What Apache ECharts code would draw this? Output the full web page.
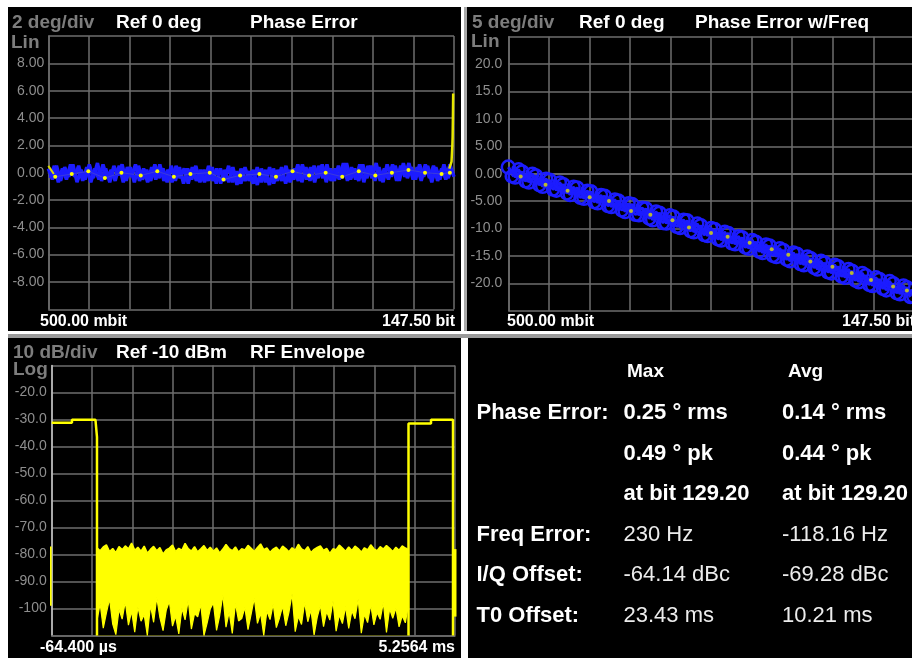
<!DOCTYPE html>
<html>
<head>
<meta charset="utf-8">
<script src="https://cdn.jsdelivr.net/npm/echarts@6/dist/echarts.min.js"></script>
<style>
html,body{margin:0;padding:0;background:#fff;overflow:hidden;width:912px;height:658px;}
.panel{position:absolute;background:#000;}
#chart{position:absolute;left:0;top:0;width:930px;height:658px;}
</style>
</head>
<body>
<div class="panel" style="left:8px;top:7px;width:453px;height:324px"></div>
<div class="panel" style="left:464px;top:7px;width:3px;height:324px;background:#a8a8a8"></div>
<div class="panel" style="left:467px;top:7px;width:470px;height:324px"></div>
<div class="panel" style="left:8px;top:334px;width:930px;height:4px;background:#9a9a9a"></div>
<div class="panel" style="left:8px;top:338px;width:453px;height:320px"></div>
<div class="panel" style="left:468px;top:338px;width:470px;height:320px"></div>
<div id="chart"></div>
<script>
// ---------- DATA ----------
// Panel 1: Phase Error (deg) vs bit 0.5 .. 147.5 (two interleaved traces)
const phaseBitRange = [0.5, 147.5];
const phaseBitRange2 = [1.2, 146.8];
const phaseErrDeg = [
 0.3,-0.5,0.5,-0.6,0.4,-0.3,0.6,-0.7,0.2,-0.5,
 0.6,-0.4,0.7,-0.6,0.3,-0.7,0.5,-0.2,0.6,-0.6,
 0.4,-0.7,0.5,-0.5,0.2,-0.6,0.6,-0.4,0.3,-0.7,
 0.5,-0.6,0.4,-0.8,0.3,-0.5,0.5,-0.7,0.2,-0.6,
 0.4,-0.8,0.3,-0.6,0.5,-0.7,0.1,-0.8,0.4,-0.6,
 0.2,-0.9,0.3,-0.7,0.4,-0.8,0.2,-0.6,0.5,-0.7,
 0.3,-0.6,0.6,-0.5,0.4,-0.7,0.5,-0.4,0.6,-0.6,
 0.3,-0.5,0.7,-0.6,0.4,-0.5,0.6,-0.7,0.5,-0.4,
 0.7,-0.6,0.3,-0.5,0.6,-0.6,0.5,-0.3,0.7,-0.5,
 0.4,-0.6,0.6,-0.4,0.5,-0.6,0.3,-0.5,0.6,-0.3
];
const phaseErrDeg2 = [
 -0.4,0.5,-0.7,0.3,-0.5,0.6,-0.3,0.5,-0.6,0.4,
 -0.7,0.3,-0.5,0.6,-0.4,0.2,-0.6,0.5,-0.7,0.4,
 -0.3,0.6,-0.6,0.3,-0.7,0.4,-0.5,0.6,-0.6,0.2,
 -0.7,0.5,-0.4,0.3,-0.8,0.4,-0.6,0.2,-0.7,0.5,
 -0.6,0.3,-0.8,0.2,-0.7,0.4,-0.9,0.3,-0.6,0.1,
 -0.8,0.4,-0.7,0.2,-0.9,0.3,-0.6,0.4,-0.8,0.2,
 -0.5,0.6,-0.7,0.4,-0.6,0.5,-0.4,0.6,-0.7,0.3,
 -0.6,0.5,-0.4,0.7,-0.5,0.3,-0.6,0.6,-0.4,0.5,
 -0.6,0.4,-0.7,0.6,-0.3,0.5,-0.6,0.7,-0.4,0.4,
 -0.5,0.6,-0.3,0.5,-0.7,0.4,-0.5,0.6,-0.4,0.3
];
const phaseDots = [[3,-0.3],[9,-0.1],[15,0.1],[21,-0.4],[27,0.0],[34,-0.2],[40,0.1],[46,-0.3],[52,-0.1],[59,0.0],
 [64,-0.5],[70,-0.2],[77,-0.1],[83,-0.3],[89,0.1],[95,-0.2],[101,0.0],[107,-0.3],[113,0.1],[119,-0.2],
 [125,0.0],[131,0.2],[137,0.0],[143,-0.1],[146,0.0]];
const phaseStartTail = [[0.5,0.5],[1.5,0.2],[2.5,-0.1]];
const phaseEndSpike = [[145.8,0.3],[146.6,0.8],[146.9,2.0],[147.0,2.6],[147.1,4.0],[147.2,5.8]];
const phaseYLabels = {'8':'8.00','6':'6.00','4':'4.00','2':'2.00','0':'0.00','-2':'-2.00','-4':'-4.00','-6':'-6.00','-8':'-8.00'};
const phaseXEnds = ['500.00 mbit','147.50 bit'];

// Panel 2: Phase Error w/Freq (deg) vs bit (two interleaved traces)
const freqBitRange2 = [1.75, 146.25];
const freqPhaseDeg = [
 1.2,-0.6,0.3,-1.5,-0.4,-2.3,-1.2,-3.0,-2.0,-3.8,
 -2.6,-4.5,-3.3,-5.3,-4.1,-6.0,-5.0,-6.9,-5.6,-7.5,
 -6.4,-8.4,-7.2,-9.0,-7.9,-9.8,-8.6,-10.6,-9.5,-11.3,
 -10.2,-12.1,-10.9,-12.8,-11.7,-13.6,-12.5,-14.4,-13.2,-15.1,
 -14.0,-15.9,-14.7,-16.6,-15.5,-17.4,-16.3,-18.1,-17.0,-18.9,
 -17.8,-19.7,-18.6,-20.4,-19.3,-21.2,-20.1,-21.9,-20.8,-22.4
];
const freqPhaseDeg2 = [
 -0.5,0.8,-1.4,0.0,-2.1,-0.9,-2.9,-1.6,-3.6,-2.4,
 -4.4,-3.1,-5.2,-3.9,-5.9,-4.7,-6.7,-5.4,-7.5,-6.2,
 -8.2,-6.9,-9.0,-7.6,-9.7,-8.4,-10.5,-9.1,-11.2,-9.9,
 -12.0,-10.6,-12.7,-11.4,-13.5,-12.1,-14.2,-12.9,-15.0,-13.6,
 -15.7,-14.4,-16.5,-15.1,-17.2,-15.9,-18.0,-16.6,-18.8,-17.4,
 -19.5,-18.1,-20.3,-18.9,-21.0,-19.6,-21.8,-20.4,-22.5
];
const freqDots = [[5,-0.5],[14,-2],[22,-3.1],[30,-4.3],[37,-5],[45,-6.8],[52,-7.5],[60,-8.5],[66,-9.8],[74,-10.8],
 [80,-11.5],[88,-12.6],[96,-13.8],[102,-14.8],[110,-16.0],[118,-17.0],[125,-18.1],[132,-19.4],[140,-20.6],[145,-21.3]];
const freqYLabels = {'20':'20.0','15':'15.0','10':'10.0','5':'5.00','0':'0.00','-5':'-5.00','-10':'-10.0','-15':'-15.0','-20':'-20.0'};
const freqXEnds = ['500.00 mbit','147.50 bit'];

// Panel 3: RF Envelope (dBm) vs time (ms)
const envTimeRange = [-0.0644, 5.2564];
const burstLeft = [[-0.0644,-31.2],[0.203,-31.2],[0.203,-30.1],[0.513,-30.1],[0.533,-36.5],[0.533,-110]];
const burstRight = [[4.643,-110],[4.643,-31.5],[4.940,-31.5],[4.940,-30.1],[5.230,-30.1],[5.230,-110]];
const edgeLeft = [[-0.085,-77],[-0.085,-99]];
const edgeRight = [[5.2564,-78],[5.2564,-103]];
const noiseSpan = [0.533, 4.643];
const noiseTop = [
 -77.5,-78.6,-77.2,-76.4,-78.9,-77.8,-79.3,-77.1,-78.2,-76.8,
 -77.9,-75.8,-78.4,-77.3,-78.8,-76.9,-79.5,-78.1,-77.0,-78.6,
 -77.4,-79.8,-78.3,-77.6,-76.5,-78.9,-77.7,-78.4,-75.9,-77.8,
 -78.7,-77.1,-79.0,-77.9,-76.7,-78.5,-77.3,-78.8,-77.6,-79.4,
 -78.0,-76.3,-77.8,-78.6,-77.2,-79.1,-77.9,-78.3,-76.6,-77.7,
 -78.9,-77.4,-76.1,-78.2,-77.6,-79.2,-78.0,-77.3,-78.7,-76.9,
 -77.8,-79.0,-77.5,-78.4,-76.2,-77.9,-78.6,-77.1,-79.3,-78.1,
 -77.4,-76.8,-78.5,-77.7,-79.6,-77.9,-78.2,-76.5,-77.6,-78.8,
 -77.2,-78.5,-76.9,-77.8,-79.1,-77.5,-78.3,-76.4,-77.9,-78.6,
 -77.1,-78.0,-76.7,-77.7,-78.9,-77.3,-78.4,-76.8,-77.6,-78.2
];
const noiseBottom = [
 -104.5,-98.2,-107.3,-101.6,-96.4,-105.8,-109.7,-100.3,-103.9,-97.5,
 -106.2,-101.0,-108.8,-99.4,-104.7,-102.3,-110.0,-98.8,-105.1,-95.9,
 -103.4,-108.2,-100.7,-97.3,-106.5,-102.8,-109.4,-99.9,-104.2,-96.8,
 -107.6,-101.9,-103.1,-98.5,-110.0,-105.4,-100.2,-97.9,-108.1,-102.6,
 -94.8,-106.9,-101.3,-109.2,-98.1,-104.6,-103.7,-99.6,-107.8,-102.0,
 -96.2,-105.5,-101.7,-110.0,-100.9,-104.1,-98.3,-107.1,-103.5,-99.1,
 -106.4,-101.4,-94.5,-108.6,-102.9,-105.9,-97.7,-104.9,-100.5,-109.8,
 -103.2,-98.9,-106.7,-101.1,-104.3,-97.2,-108.4,-102.4,-105.6,-99.3,
 -107.4,-100.8,-103.8,-96.5,-109.1,-102.1,-105.2,-98.6,-106.1,-101.5,
 -104.0,-97.8,-108.9,-100.1,-103.6,-99.8,-106.8,-102.7,-105.3,-98.4
];
const envYLabels = {'-20':'-20.0','-30':'-30.0','-40':'-40.0','-50':'-50.0','-60':'-60.0','-70':'-70.0','-80':'-80.0','-90':'-90.0','-100':'-100'};
const envXEnds = ['-64.400 \u00b5s','5.2564 ms'];

// Headers
const headers = [
  ['2 deg/div','Ref 0 deg','Phase Error','Lin'],
  ['5 deg/div','Ref 0 deg','Phase Error w/Freq','Lin'],
  ['10 dB/div','Ref -10 dBm','RF Envelope','Log']
];
// Results table
const tableHeads = ['Max','Avg'];
const rowLabels = ['Phase Error:','','','Freq Error:','I/Q Offset:','T0 Offset:'];
const maxCol = ['0.25 \u00b0 rms','0.49 \u00b0 pk','at bit 129.20','230 Hz','-64.14 dBc','23.43 ms'];
const avgCol = ['0.14 \u00b0 rms','0.44 \u00b0 pk','at bit 129.20','-118.16 Hz','-69.28 dBc','10.21 ms'];
const boldValueRows = 3;

// ---------- BUILD ----------
const FF = '"Liberation Sans", Arial, Helvetica, sans-serif';
const GRID_C = '#6e6e6e';
const LBL_C = '#8e8e8e';
const BLUE = '#1c1cff';
const YEL = '#ffff00';

const toPairs = (vals, range) => vals.map((v, i) => [range[0] + i * (range[1] - range[0]) / (vals.length - 1), v]);
const phaseData = toPairs(phaseErrDeg, phaseBitRange);
const phaseData2 = toPairs(phaseErrDeg2, phaseBitRange2);
const freqData = toPairs(freqPhaseDeg, phaseBitRange);
const freqData2 = toPairs(freqPhaseDeg2, freqBitRange2);
const noiseTopData = toPairs(noiseTop, noiseSpan);
const noiseLowData = toPairs(noiseBottom, noiseSpan);

const grids = [
  {left: 48.3, top: 36, width: 405.7, height: 273.3},
  {left: 508.3, top: 36.7, width: 405.5, height: 274},
  {left: 51.7, top: 365.5, width: 403.3, height: 270}
];

function divAxis(g) {
  return {type: 'value', gridIndex: g, min: 0, max: 10, interval: 1,
    axisLine: {show: true, lineStyle: {color: GRID_C, width: 1.5}},
    axisTick: {show: false}, axisLabel: {show: false},
    splitLine: {show: true, lineStyle: {color: GRID_C, width: 1.5}}};
}
function dataX(g, range) {
  return {type: 'value', gridIndex: g, min: range[0], max: range[1], show: false};
}
function yAxis(g, min, max, interval, labels, margin, lineColor) {
  return {type: 'value', gridIndex: g, min: min, max: max, interval: interval,
    axisLine: {show: true, lineStyle: {color: lineColor || GRID_C, width: 1.5}},
    axisTick: {show: false},
    axisLabel: {show: true, margin: margin, color: LBL_C, fontFamily: FF, fontSize: 14,
      formatter: v => labels[String(v)] || ''},
    splitLine: {show: true, lineStyle: {color: GRID_C, width: 1.5}}};
}

const graphics = [];
function txt(x, y, text, color, size, bold, align) {
  graphics.push({type: 'text', x: x, y: y, z: 100, silent: true,
    style: {text: text, fill: color, font: (bold ? 'bold ' : '') + size + 'px ' + FF,
      align: align || 'left', verticalAlign: 'middle'}});
}
const hdrPos = [
  {x: [12, 116, 250], y: 22.5, lx: 11, ly: 43},
  {x: [472, 579, 695], y: 22.5, lx: 471, ly: 42},
  {x: [13, 116, 250], y: 352.5, lx: 13, ly: 370}
];
headers.forEach((h, i) => {
  const p = hdrPos[i];
  txt(p.x[0], p.y, h[0], '#7d7d7d', 19, true);
  txt(p.x[1], p.y, h[1], '#ffffff', 19, true);
  txt(p.x[2], p.y, h[2], '#ffffff', 19, true);
  txt(p.lx, p.ly, h[3], '#7d7d7d', 19, true);
});
txt(40, 321.5, phaseXEnds[0], '#ffffff', 16, true);
txt(455, 321.5, phaseXEnds[1], '#ffffff', 16, true, 'right');
txt(507, 321.5, freqXEnds[0], '#ffffff', 16, true);
txt(915, 321.5, freqXEnds[1], '#ffffff', 16, true, 'right');
txt(40, 648, envXEnds[0], '#ffffff', 16, true);
txt(455, 648, envXEnds[1], '#ffffff', 16, true, 'right');
txt(627, 372, tableHeads[0], '#ffffff', 19, true);
txt(788, 372, tableHeads[1], '#ffffff', 19, true);
const rowY = [413, 454, 494, 534.5, 575, 615.5];
rowLabels.forEach((l, i) => {
  if (l) txt(476.5, rowY[i], l, '#ffffff', 22, true);
  const b = i < boldValueRows;
  txt(623.5, rowY[i], maxCol[i], b ? '#ffffff' : '#ececec', 22, b);
  txt(782, rowY[i], avgCol[i], b ? '#ffffff' : '#ececec', 22, b);
});

const option = {
  backgroundColor: 'transparent',
  animation: false,
  grid: grids.map(g => Object.assign({show: false, containLabel: false}, g)),
  xAxis: [divAxis(0), dataX(0, phaseBitRange), divAxis(1), dataX(1, phaseBitRange), divAxis(2), dataX(2, envTimeRange)],
  yAxis: [
    yAxis(0, -10, 10, 2, phaseYLabels, 4),
    yAxis(1, -25, 25, 5, freqYLabels, 6),
    yAxis(2, -110, -10, 10, envYLabels, 5, '#c8c8c8')
  ],
  graphic: graphics,
  series: [
    // Panel 1
    {type: 'line', xAxisIndex: 1, yAxisIndex: 0, data: phaseData, symbol: 'none',
      lineStyle: {color: BLUE, width: 3.5}, z: 3},
    {type: 'line', xAxisIndex: 1, yAxisIndex: 0, data: phaseData2, symbol: 'none',
      lineStyle: {color: BLUE, width: 3.5}, z: 3},
    {type: 'line', xAxisIndex: 1, yAxisIndex: 0, data: phaseDots, symbol: 'circle', symbolSize: 4,
      itemStyle: {color: YEL}, lineStyle: {color: 'rgba(170,170,90,0.22)', width: 1}, z: 4},
    {type: 'line', xAxisIndex: 1, yAxisIndex: 0, data: phaseStartTail, symbol: 'none',
      lineStyle: {color: '#d8d800', width: 2}, z: 4},
    {type: 'line', xAxisIndex: 1, yAxisIndex: 0, data: phaseEndSpike, symbol: 'none',
      lineStyle: {color: '#e6e600', width: 2.5}, z: 4},
    // Panel 2
    {type: 'line', xAxisIndex: 3, yAxisIndex: 1, data: freqData, symbol: 'circle', symbolSize: 13,
      itemStyle: {color: 'rgba(0,0,0,0)', borderColor: BLUE, borderWidth: 2.5},
      lineStyle: {color: BLUE, width: 3}, z: 3},
    {type: 'line', xAxisIndex: 3, yAxisIndex: 1, data: freqData2, symbol: 'circle', symbolSize: 12,
      itemStyle: {color: 'rgba(0,0,0,0)', borderColor: BLUE, borderWidth: 2.5},
      lineStyle: {color: BLUE, width: 2.5}, z: 3},
    {type: 'scatter', xAxisIndex: 3, yAxisIndex: 1, data: freqDots, symbol: 'circle', symbolSize: 4,
      itemStyle: {color: '#e0e000'}, z: 4},
    // Panel 3
    {type: 'line', xAxisIndex: 5, yAxisIndex: 2, data: noiseTopData, symbol: 'none',
      lineStyle: {color: YEL, width: 1.5}, areaStyle: {color: YEL, opacity: 1, origin: 'start'}, z: 3},
    {type: 'line', xAxisIndex: 5, yAxisIndex: 2, data: noiseLowData, symbol: 'none',
      lineStyle: {color: YEL, width: 1.2}, areaStyle: {color: '#000000', opacity: 1, origin: 'start'}, z: 4},
    {type: 'line', xAxisIndex: 5, yAxisIndex: 2, data: burstLeft, symbol: 'none',
      lineStyle: {color: YEL, width: 2.5}, z: 5},
    {type: 'line', xAxisIndex: 5, yAxisIndex: 2, data: burstRight, symbol: 'none',
      lineStyle: {color: YEL, width: 2.5}, z: 5},
    {type: 'line', xAxisIndex: 5, yAxisIndex: 2, data: edgeLeft, symbol: 'none', clip: false,
      lineStyle: {color: YEL, width: 3}, z: 5},
    {type: 'line', xAxisIndex: 5, yAxisIndex: 2, data: edgeRight, symbol: 'none',
      lineStyle: {color: YEL, width: 3}, z: 5}
  ]
};
const chart = echarts.init(document.getElementById('chart'), null, {renderer: 'canvas'});
chart.setOption(option);
</script>
</body>
</html>
